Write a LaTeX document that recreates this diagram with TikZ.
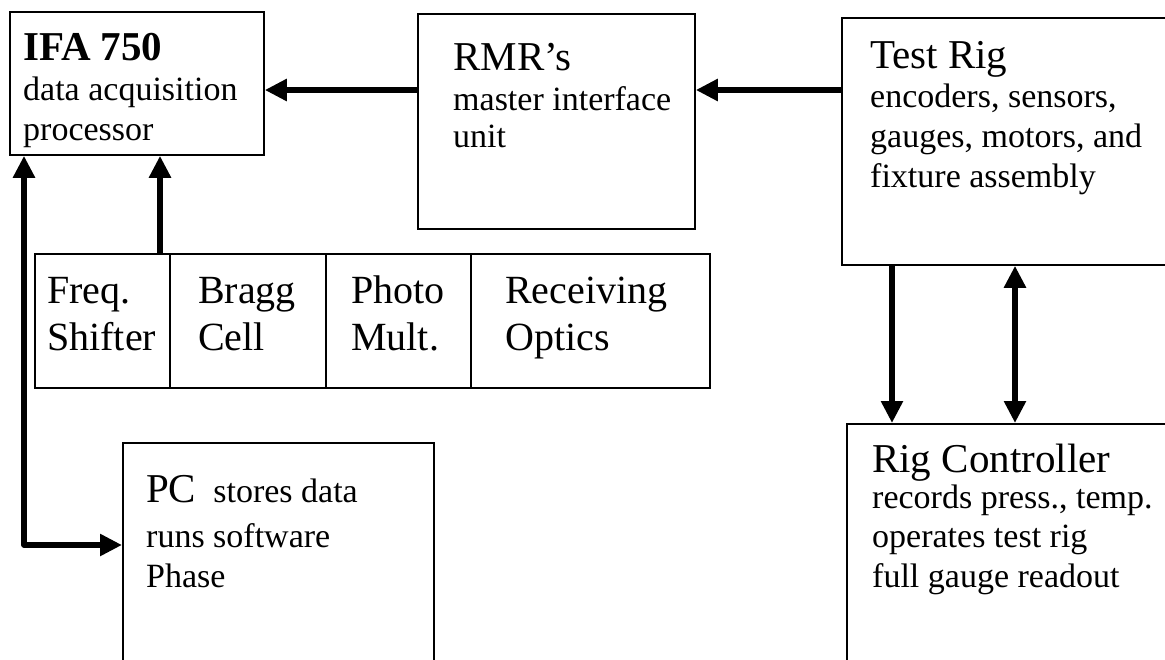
\documentclass[tikz,border=0pt]{standalone}
\usepackage{fontspec}
\setmainfont{Liberation Serif}
\usetikzlibrary{arrows.meta}

\begin{document}
\begin{tikzpicture}[x=1pt, y=-1pt,
  blk/.style={draw, line width=1.8pt, inner sep=0pt, anchor=north west},
  ttl/.style={anchor=base west, inner sep=0pt, font=\fontsize{41}{41}\selectfont},
  txt/.style={anchor=base west, inner sep=0pt, align=left, font=\fontsize{34}{40}\selectfont},
  cell/.style={anchor=base west, inner sep=0pt, align=left, font=\fontsize{40}{47}\selectfont},
  link/.style={line width=5.5pt, line join=round, -{Triangle[length=22pt,width=21pt]}},
  link2/.style={line width=5.5pt, line join=round, {Triangle[length=22pt,width=21pt]}-{Triangle[length=22pt,width=21pt]}}]

\useasboundingbox (0,0) rectangle (1165,659);
\clip (0,0) rectangle (1165,659);

% Main boxes (right and bottom ones run off the page)
\node[blk, minimum width=254pt, minimum height=143pt] (ifa) at (9,11) {};
\node[blk, minimum width=277pt, minimum height=215pt] (rmr) at (417,13) {};
\node[blk, minimum width=360pt, minimum height=247pt] (rig) at (841,17) {};
\node[blk, minimum width=360pt, minimum height=260pt] (ctrl) at (846,423) {};
\node[blk, minimum width=311pt, minimum height=240pt] (pc) at (122,442) {};

% Optics strip
\node[blk, minimum width=135pt, minimum height=134pt] (freq) at (34,253) {};
\node[blk, minimum width=156pt, minimum height=134pt] (bragg) at (169,253) {};
\node[blk, minimum width=145pt, minimum height=134pt] (photo) at (325,253) {};
\node[blk, minimum width=239pt, minimum height=134pt] (optics) at (470,253) {};

% Box texts (multi-line nodes sit on their last baseline)
\node[ttl, font=\fontsize{41}{41}\selectfont\bfseries] (ifat) at (23,60) {IFA 750};
\node[txt] (ifab) at (23,140) {data acquisition\\processor};
\node[ttl] (rmrt) at (453,70) {RMR’s};
\node[txt, font=\fontsize{34}{37}\selectfont] (rmrb) at (453,147) {master interface\\unit};
\node[ttl] (rigt) at (870,68) {Test Rig};
\node[txt] (rigb) at (870,187) {encoders, sensors,\\gauges, motors, and\\fixture assembly};
\node[ttl] (ctrlt) at (872,472) {Rig Controller};
\node[txt, font=\fontsize{34}{39.5}\selectfont] (ctrlb) at (872,587) {records press., temp.\\operates test rig\\full gauge readout};
\node[txt] (pct) at (146,587) {{\fontsize{41}{41}\selectfont PC}\ \ stores data\\[5pt]runs software\\Phase};

\node[cell] (freqt) at (47,350) {Freq.\\Shifter};
\node[cell] (braggt) at (198,350) {Bragg\\Cell};
\node[cell] (photot) at (351,350) {Photo\\Mult.};
\node[cell] (opticst) at (505,350) {Receiving\\Optics};

% Connectors
\coordinate (row) at (0,90);
\coordinate (upx) at (160,0);
\coordinate (bend) at (24,545);
\coordinate (dnx) at (892,0);
\coordinate (bix) at (1015,0);

\draw[link] (rig.west |- row) -- (rmr.east |- row);
\draw[link] (rmr.west |- row) -- (ifa.east |- row);
\draw[link] (freq.north -| upx) -- (ifa.south -| upx);
\draw[link2] (ifa.south -| bend) |- (pc.west |- bend);
\draw[link] (rig.south -| dnx) -- (ctrl.north -| dnx);
\draw[link2] (rig.south -| bix) -- (ctrl.north -| bix);
\end{tikzpicture}
\end{document}
